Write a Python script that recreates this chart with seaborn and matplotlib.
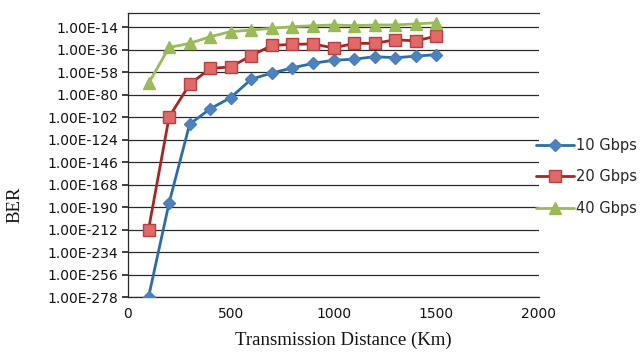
import numpy as np
import pandas as pd
import matplotlib
matplotlib.use("Agg")
import matplotlib.pyplot as plt
import seaborn as sns

# ---- data (BER exponent, i.e. log10(BER)) ----
distance_km = [100, 200, 300, 400, 500, 600, 700, 800, 900, 1000, 1100, 1200, 1300, 1400, 1500]
ber_10g = [-278, -186, -109, -94, -83, -65, -59, -54, -49.5, -46.5, -45.5, -43, -44, -42.5, -41]
ber_20g = [-212, -102, -70, -54.5, -53, -42, -32, -31, -30.5, -34.5, -30, -30, -26.5, -27.5, -23]
ber_40g = [-69, -34, -30, -23.5, -18.5, -17, -15.3, -13.7, -12.7, -12, -12.7, -12, -12, -11, -9.8]
series_names = ["10 Gbps", "20 Gbps", "40 Gbps"]
ytick_vals = [-278, -256, -234, -212, -190, -168, -146, -124, -102, -80, -58, -36, -14]
xtick_vals = [0, 500, 1000, 1500, 2000]

df = pd.concat([
    pd.DataFrame({"Distance": distance_km, "BER": ber_10g, "Rate": series_names[0]}),
    pd.DataFrame({"Distance": distance_km, "BER": ber_20g, "Rate": series_names[1]}),
    pd.DataFrame({"Distance": distance_km, "BER": ber_40g, "Rate": series_names[2]}),
])

sns.set_theme(style="white")
plt.rcParams["font.family"] = ["DejaVu Sans"]

fig = plt.figure(figsize=(6.43, 3.54), dpi=100)
ax = fig.add_axes([128 / 643, 1 - 297 / 354, (539 - 128) / 643, (297 - 13) / 354])

line_colors = {"10 Gbps": "#2C6DA8", "20 Gbps": "#A52624", "40 Gbps": "#9BBB59"}
face_colors = {"10 Gbps": "#4F81BD", "20 Gbps": "#E06A68", "40 Gbps": "#9BBB59"}
edge_colors = {"10 Gbps": "#4A7EBB", "20 Gbps": "#B8413F", "40 Gbps": "#98B954"}
markers = {"10 Gbps": "D", "20 Gbps": "s", "40 Gbps": "^"}
msizes = {"10 Gbps": 6.5, "20 Gbps": 8, "40 Gbps": 9}

for name in series_names:
    sub = df[df["Rate"] == name]
    sns.lineplot(data=sub, x="Distance", y="BER", ax=ax, color=line_colors[name],
                 linewidth=2.0, marker=markers[name], markersize=msizes[name],
                 markerfacecolor=face_colors[name], markeredgecolor=edge_colors[name],
                 markeredgewidth=1.0, label=name, legend=False, zorder=3)

ax.set_xlim(0, 2000)
ax.set_ylim(-278, -0.3)
ax.set_xticks(xtick_vals)
ax.set_xticklabels([str(v) for v in xtick_vals], fontsize=10)
ax.set_yticks(ytick_vals)
ax.set_yticklabels([f"1.00E{v}" for v in ytick_vals], fontsize=10)
ax.grid(axis="y", color="#2a2a2a", linewidth=0.9)
ax.grid(axis="x", visible=False)
for s in ["left", "bottom", "top"]:
    ax.spines[s].set_visible(True)
    ax.spines[s].set_color("#2a2a2a")
    ax.spines[s].set_linewidth(0.9)
ax.spines["right"].set_visible(False)
ax.tick_params(axis="y", length=4, color="#2a2a2a", pad=3, left=True, labelcolor="#111111")
ax.tick_params(axis="x", length=0, pad=7, labelcolor="#111111")
ax.set_xlabel("")
ax.set_ylabel("")

fig.text(343 / 643, 1 - 340 / 354, "Transmission Distance (Km)", ha="center", va="center",
         fontsize=13.5, family=["Liberation Serif", "DejaVu Serif"], color="#111111")
fig.text(15 / 643, 1 - 205 / 354, "BER", ha="center", va="center", rotation=90,
         fontsize=13.5, family=["Liberation Serif", "DejaVu Serif"], color="#111111")

handles, labels = ax.get_legend_handles_labels()
fig.legend(handles, labels, loc="center left", bbox_to_anchor=(536 / 643, 0.5),
           frameon=False, fontsize=10.5, borderpad=0, borderaxespad=0,
           handlelength=2.6, handletextpad=0.15, labelspacing=1.15)

fig.savefig("out.png", dpi=100)
